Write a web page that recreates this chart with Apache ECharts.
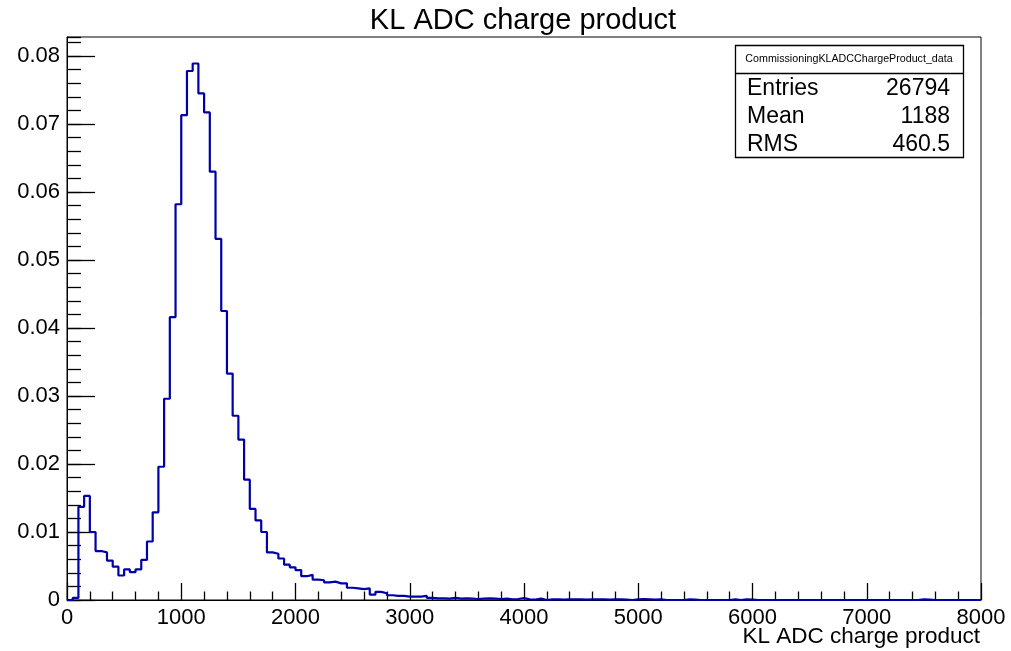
<!DOCTYPE html>
<html>
<head>
<meta charset="utf-8">
<script src="https://cdn.jsdelivr.net/npm/echarts@6/dist/echarts.min.js"></script>
<style>
html,body{margin:0;padding:0;background:#fff;}
#chart{width:1011px;height:651px;}
</style>
</head>
<body>
<div id="chart"></div>
<script>
// ---- Data ----
const chartTitle = 'KL ADC charge product';
const xAxisTitle = 'KL ADC charge product';
const statsName = 'CommissioningKLADCChargeProduct_data';
const statsLabels = ['Entries', 'Mean', 'RMS'];
const statsValues = ['26794', '1188', '460.5'];
const binLow = 0;       // first bin low edge
const binWidth = 50;    // bin width
const xTicks = [0, 1000, 2000, 3000, 4000, 5000, 6000, 7000, 8000];
const yTicks = [0, 0.01, 0.02, 0.03, 0.04, 0.05, 0.06, 0.07, 0.08];
// normalized bin contents, 160 bins from 0 to 8000
const binValues = [
  0, 0.0003, 0.0137, 0.0153, 0.0100, 0.0072, 0.0070, 0.0058, 0.0049, 0.0036,
  0.0045, 0.0041, 0.0045, 0.0059, 0.0086, 0.0129, 0.0196, 0.0296, 0.0416, 0.0582,
  0.0713, 0.0778, 0.0789, 0.0745, 0.0717, 0.0630, 0.0531, 0.0425, 0.0333, 0.0271,
  0.0236, 0.0177, 0.0134, 0.0117, 0.0100, 0.0070, 0.0068, 0.0061, 0.0052, 0.0048,
  0.0044, 0.0035, 0.0037, 0.0030, 0.0029, 0.0026, 0.0027, 0.00245, 0.00245, 0.0018,
  0.0017, 0.0016, 0.0017, 0.0008, 0.0012, 0.0010, 0.0007, 0.0006, 0.0006, 0.0005,
  0.0005, 0.0005, 0.0006, 0.0003, 0.00025, 0.00025, 0.0002, 0.0003, 0.0002, 0.00025,
  0.0002, 0.00015, 0.0002, 0.00025, 0.0002, 0.00015, 0.0002, 0.0001, 0.00015, 0.0003,
  0.0001, 0.00005, 0.0002, 0, 0.0001, 0.0001, 0.00005, 0.0001, 0.0001, 0.0001,
  0.00005, 0.0001, 0.0001, 0.0001, 0.00005, 0.0001, 0.0001, 0.00005, 0, 0.0001,
  0.00015, 0.0001, 0.00005, 0.0001, 0, 0, 0, 0, 0.0001, 0.00005,
  0, 0, 0, 0, 0, 0, 0.0001, 0, 0.0001, 0.00005,
  0, 0, 0, 0, 0, 0, 0, 0, 0, 0,
  0, 0, 0, 0, 0, 0, 0, 0, 0, 0,
  0, 0, 0, 0, 0, 0, 0, 0, 0, 0.0001,
  0.00005, 0, 0, 0, 0, 0, 0, 0, 0, 0
];

// ---- Build step-outline points from bin edges ----
const outline = binValues.map((v, i) => [binLow + i * binWidth, v]);
outline.push([binLow + binValues.length * binWidth, binValues[binValues.length - 1]]);

const FONT = "'Liberation Sans', Arial, Helvetica, sans-serif";
const yMax = 0.0828;

const chart = echarts.init(document.getElementById('chart'), null, {renderer: 'canvas'});
chart.setOption({
  animation: false,
  backgroundColor: '#ffffff',
  grid: {
    left: 67, right: 30, top: 37, bottom: 51,
    show: true, borderColor: '#000', borderWidth: 1, backgroundColor: 'transparent'
  },
  xAxis: {
    type: 'value',
    min: xTicks[0], max: xTicks[xTicks.length - 1], interval: xTicks[1] - xTicks[0],
    axisLine: {show: true, onZero: false, lineStyle: {color: '#000', width: 1}},
    axisTick: {show: true, inside: true, length: 17, lineStyle: {color: '#000', width: 1.3}},
    minorTick: {show: true, splitNumber: 5, length: 8.5, lineStyle: {color: '#000', width: 1.3}},
    splitLine: {show: false},
    axisLabel: {
      color: '#000', fontFamily: FONT, fontSize: 22, margin: 7,
      formatter: function (v) { return String(Math.round(v)); }
    }
  },
  yAxis: [{
    type: 'value',
    min: yTicks[0], max: yMax, interval: yTicks[1] - yTicks[0],
    axisLine: {show: true, lineStyle: {color: '#000', width: 1}},
    axisTick: {show: true, inside: true, length: 28, lineStyle: {color: '#000', width: 1.3}},
    splitLine: {show: false},
    axisLabel: {
      color: '#000', fontFamily: FONT, fontSize: 22, margin: 7, showMaxLabel: false,
      formatter: function (v) {
        if (Math.abs(v) < 1e-12) return '0';
        return v.toFixed(2);
      }
    }
  }, {
    type: 'value', position: 'left',
    min: yTicks[0], max: yMax, interval: 0.002,
    axisLine: {show: false},
    axisTick: {show: true, inside: true, length: 14, lineStyle: {color: '#000', width: 1.3}},
    splitLine: {show: false},
    axisLabel: {show: false}
  }],
  series: [{
    type: 'line',
    step: 'end',
    data: outline,
    yAxisIndex: 0,
    showSymbol: false,
    symbol: 'none',
    lineStyle: {color: '#0000a8', width: 2.2},
    clip: true,
    silent: true
  }],
  graphic: [
    {type: 'text', x: 523, y: 21, style: {text: chartTitle, fill: '#000', font: '29px ' + FONT, textAlign: 'center', textVerticalAlign: 'middle'}},
    {type: 'text', x: 980, y: 637, style: {text: xAxisTitle, fill: '#000', font: '22.5px ' + FONT, textAlign: 'right', textVerticalAlign: 'middle'}},
    {type: 'rect', shape: {x: 735.5, y: 45.5, width: 228, height: 112}, style: {fill: '#fff', stroke: '#000', lineWidth: 1.3}, z: 100},
    {type: 'line', shape: {x1: 735.5, y1: 73.5, x2: 963.5, y2: 73.5}, style: {stroke: '#000', lineWidth: 1.3}, z: 101},
    {type: 'text', x: 849, y: 59.5, z: 102, style: {text: statsName, fill: '#000', font: '10.7px ' + FONT, textAlign: 'center', textVerticalAlign: 'middle'}},
    {type: 'text', x: 747, y: 89, z: 102, style: {text: statsLabels[0], fill: '#000', font: '23px ' + FONT, textAlign: 'left', textVerticalAlign: 'middle'}},
    {type: 'text', x: 950, y: 89, z: 102, style: {text: statsValues[0], fill: '#000', font: '23px ' + FONT, textAlign: 'right', textVerticalAlign: 'middle'}},
    {type: 'text', x: 747, y: 117, z: 102, style: {text: statsLabels[1], fill: '#000', font: '23px ' + FONT, textAlign: 'left', textVerticalAlign: 'middle'}},
    {type: 'text', x: 950, y: 117, z: 102, style: {text: statsValues[1], fill: '#000', font: '23px ' + FONT, textAlign: 'right', textVerticalAlign: 'middle'}},
    {type: 'text', x: 747, y: 145, z: 102, style: {text: statsLabels[2], fill: '#000', font: '23px ' + FONT, textAlign: 'left', textVerticalAlign: 'middle'}},
    {type: 'text', x: 950, y: 145, z: 102, style: {text: statsValues[2], fill: '#000', font: '23px ' + FONT, textAlign: 'right', textVerticalAlign: 'middle'}}
  ]
});
</script>
</body>
</html>
